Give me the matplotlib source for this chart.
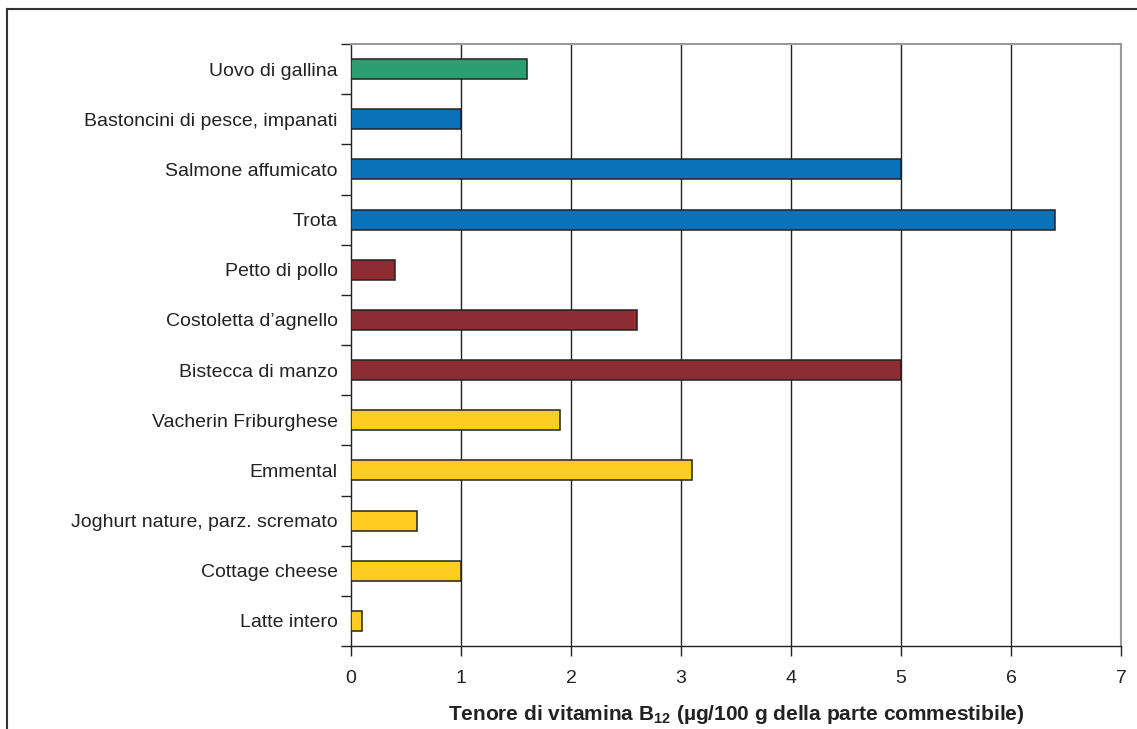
import numpy as np
import matplotlib
matplotlib.use("Agg")
from matplotlib import pyplot as plt
from matplotlib.lines import Line2D

plt.rcParams['font.family'] = ['Liberation Sans', 'DejaVu Sans']
plt.rcParams['mathtext.fontset'] = 'custom'
plt.rcParams['mathtext.rm'] = 'Liberation Sans'
plt.rcParams['mathtext.bf'] = 'Liberation Sans:bold'

# dati (dall'alto verso il basso)
alimenti = ["Uovo di gallina", "Bastoncini di pesce, impanati", "Salmone affumicato",
            "Trota", "Petto di pollo", "Costoletta d\u2019agnello", "Bistecca di manzo",
            "Vacherin Friburghese", "Emmental", "Joghurt nature, parz. scremato",
            "Cottage cheese", "Latte intero"]
valori = [1.6, 1.0, 5.0, 6.4, 0.4, 2.6, 5.0, 1.9, 3.1, 0.6, 1.0, 0.1]
gruppi = ["uova", "pesce", "pesce", "pesce", "carne", "carne", "carne",
          "latte", "latte", "latte", "latte", "latte"]
colori = {"uova": "#2c9f6f", "pesce": "#0b71b9", "carne": "#8d2c31", "latte": "#fdcd20"}

fig = plt.figure(figsize=(11.37, 7.29), dpi=100)
ax = fig.add_axes([351 / 1137, 1 - 646 / 729, 770 / 1137, 602 / 729])

y = np.arange(len(alimenti))
ax.barh(y, valori, height=0.4, color=[colori[g] for g in gruppi],
        edgecolor="#222222", linewidth=1.1, zorder=3)

ax.set_xlim(0, 7)
ax.set_ylim(len(alimenti) - 0.5, -0.5)
ax.set_xticks(range(8))
ax.set_yticks(y)
ax.set_yticklabels(alimenti, fontsize=14, color="#222222")
ax.set_yticks(np.arange(-0.5, len(alimenti)), minor=True)
ax.tick_params(axis="y", which="major", length=0, pad=9.5)
ax.tick_params(axis="y", which="minor", length=7, width=1, color="#222222", direction="out")
ax.tick_params(axis="x", length=7, width=1, color="#222222", labelsize=14,
               labelcolor="#222222", pad=10)

for v in range(1, 7):
    ax.axvline(v, color="#222222", linewidth=1.0, zorder=1)

for s in ["top", "right"]:
    ax.spines[s].set_color("#9a9a9a")
    ax.spines[s].set_linewidth(1.5)
for s in ["left", "bottom"]:
    ax.spines[s].set_color("#222222")
    ax.spines[s].set_linewidth(1.0)

ax.set_xlabel(r"Tenore di vitamina $\mathbf{B_{12}}$ (µg/100 g della parte commestibile)",
              fontsize=15, fontweight="bold", color="#222222", labelpad=12)

# cornice
fig.add_artist(Line2D([7 / 1137, 1], [1 - 9 / 729, 1 - 9 / 729],
                      transform=fig.transFigure, color="#333333", linewidth=1.5))
fig.add_artist(Line2D([7 / 1137, 7 / 1137], [0, 1 - 9 / 729],
                      transform=fig.transFigure, color="#333333", linewidth=1.5))

fig.savefig("out.png", dpi=100)
